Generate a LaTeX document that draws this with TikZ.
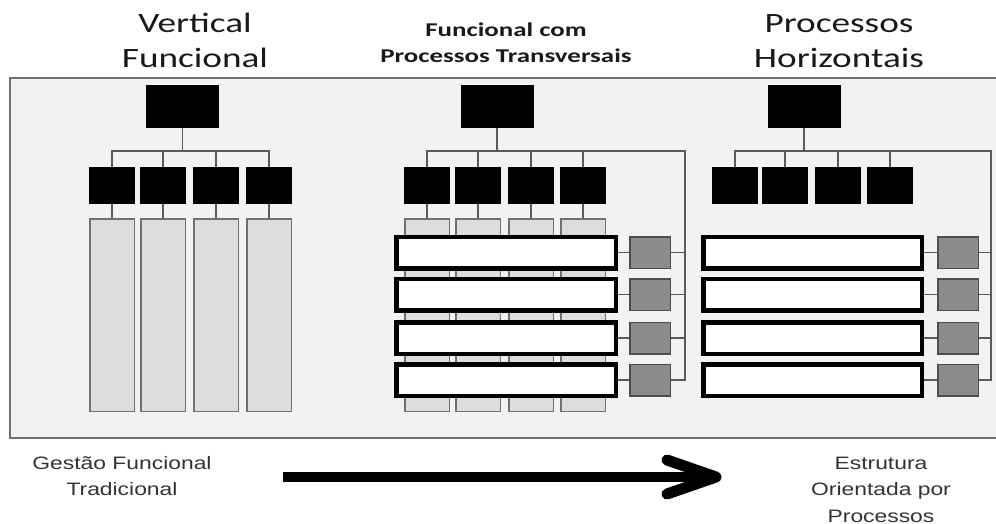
\documentclass[tikz,border=0pt]{standalone}
\usepackage{fontspec}
\usetikzlibrary{calc}
\newfontfamily\titlefont[FakeStretch=1.33]{Carlito}
\newfontfamily\midfont[FakeStretch=1.38]{Carlito}
\newfontfamily\botfont[FakeStretch=1.27]{Liberation Sans}
\definecolor{framefill}{HTML}{F2F2F2}
\definecolor{framedraw}{HTML}{707070}
\definecolor{colfill}{HTML}{DDDDDD}
\definecolor{sqfill}{HTML}{8B8B8B}
\definecolor{sqdraw}{HTML}{4D4D4D}
\definecolor{linkcol}{HTML}{5A5A5A}
\definecolor{bottext}{HTML}{333333}
\begin{document}
\begin{tikzpicture}[x=1pt,y=-1pt,
  frame/.style={fill=framefill,draw=framedraw,line width=1.5pt},
  topbox/.style={fill=black,draw=black,line width=1pt,minimum width=72pt,minimum height=42pt,inner sep=0pt},
  subbox/.style={fill=black,draw=black,line width=1pt,minimum width=45pt,minimum height=36pt,inner sep=0pt},
  colbox/.style={fill=colfill,draw=framedraw,line width=1.5pt,minimum width=44.5pt,minimum height=192.5pt,inner sep=0pt},
  procbox/.style={fill=white,draw=black,line width=4.5pt,minimum height=31.5pt,inner sep=0pt},
  sqbox/.style={fill=sqfill,draw=sqdraw,line width=1.5pt,minimum width=40.5pt,minimum height=31.5pt,inner sep=0pt},
  link/.style={draw=linkcol,line width=1.8pt},
  bigtitle/.style={font=\titlefont\fontsize{28}{34}\selectfont,text=black!90,anchor=base,inner sep=0pt},
  midtitle/.style={font=\midfont\bfseries\fontsize{19.5}{24}\selectfont,text=black!90,anchor=base,inner sep=0pt},
  bottitle/.style={font=\botfont\fontsize{18}{22}\selectfont,text=bottext,anchor=base,inner sep=0pt}
]
\useasboundingbox (0,0) rectangle (996,524);
\fill[white] (0,0) rectangle (996,524);
\draw[frame] (10,78) rectangle (1010,438);

% titles
\node[bigtitle] (t1a) at (195,33) {Vertical};
\node[bigtitle] (t1b) at (195,68) {Funcional};
\node[midtitle] (t2a) at (506,37) {Funcional com};
\node[midtitle] (t2b) at (506,63) {Processos Transversais};
\node[bigtitle] (t3a) at (839,33) {Processos};
\node[bigtitle] (t3b) at (839,68) {Horizontais};

\coordinate (bar) at (0,151);

% ---------- left: vertical functional
\node[topbox] (topL) at (182.5,106.5) {};
\foreach \i/\x in {1/112,2/163,3/216,4/269}{
  \node[subbox] (subL\i) at (\x,185.5) {};
  \node[colbox] (colL\i) at (\x,315) {};
  \draw[link] (subL\i.south) -- (colL\i.north);
}
\draw[link] (topL.south) -- (topL.south |- bar);
\draw[link] (subL1.north) -- (subL1.north |- bar) -- (subL4.north |- bar) -- (subL4.north);
\draw[link] (subL2.north) -- (subL2.north |- bar);
\draw[link] (subL3.north) -- (subL3.north |- bar);

% ---------- middle: functional with transversal processes
\coordinate (busM) at (685,151);
\node[topbox] (topM) at (497,106.5) {};
\foreach \i/\x in {1/427,2/478,3/531,4/583}{
  \node[subbox] (subM\i) at (\x,185.5) {};
  \node[colbox] (colM\i) at (\x,315) {};
  \draw[link] (subM\i.south) -- (colM\i.north);
}
\draw[link] (topM.south) -- (topM.south |- bar);
\foreach \i/\y in {1/252.5,2/294.5,3/338,4/380}{
  \node[procbox,minimum width=219.5pt] (prM\i) at (506,\y) {};
  \node[sqbox] (sqM\i) at (650,\y) {};
  \draw[link] (prM\i.east) -- (sqM\i.west);
}
\draw[link] (subM1.north) -- (subM1.north |- bar) -- (busM) -- (busM |- sqM4.east) -- (sqM4.east);
\draw[link] (subM2.north) -- (subM2.north |- bar);
\draw[link] (subM3.north) -- (subM3.north |- bar);
\draw[link] (subM4.north) -- (subM4.north |- bar);
\draw[link] (sqM1.east) -- (sqM1.east -| busM);
\draw[link] (sqM2.east) -- (sqM2.east -| busM);
\draw[link] (sqM3.east) -- (sqM3.east -| busM);

% ---------- right: horizontal processes
\coordinate (busR) at (991,151);
\node[topbox] (topR) at (804,106.5) {};
\foreach \i/\x in {1/735,2/785,3/838,4/890}{
  \node[subbox] (subR\i) at (\x,185.5) {};
}
\draw[link] (topR.south) -- (topR.south |- bar);
\foreach \i/\y in {1/252.5,2/294.5,3/338,4/380}{
  \node[procbox,minimum width=218.5pt] (prR\i) at (812.5,\y) {};
  \node[sqbox] (sqR\i) at (958,\y) {};
  \draw[link] (prR\i.east) -- (sqR\i.west);
}
\draw[link] (subR1.north) -- (subR1.north |- bar) -- (busR) -- (busR |- sqR4.east) -- (sqR4.east);
\draw[link] (subR2.north) -- (subR2.north |- bar);
\draw[link] (subR3.north) -- (subR3.north |- bar);
\draw[link] (subR4.north) -- (subR4.north |- bar);
\draw[link] (sqR1.east) -- (sqR1.east -| busR);
\draw[link] (sqR2.east) -- (sqR2.east -| busR);
\draw[link] (sqR3.east) -- (sqR3.east -| busR);

% ---------- bottom labels and arrow
\node[bottitle] (b1a) at (122,469) {Gestão Funcional};
\node[bottitle] (b1b) at (122,495) {Tradicional};
\node[bottitle] (b2a) at (881,469) {Estrutura};
\node[bottitle] (b2b) at (881,495.5) {Orientada por};
\node[bottitle] (b2c) at (881,522) {Processos};

\coordinate (arrS) at (283,477);
\coordinate (arrE) at (716,477);
\draw[line width=10pt] (arrS) -- (arrE);
\draw[line width=11pt,line cap=round,line join=round] ($(arrE)+(-49,-17)$) -- (arrE) -- ($(arrE)+(-49,17)$);
\end{tikzpicture}
\end{document}
